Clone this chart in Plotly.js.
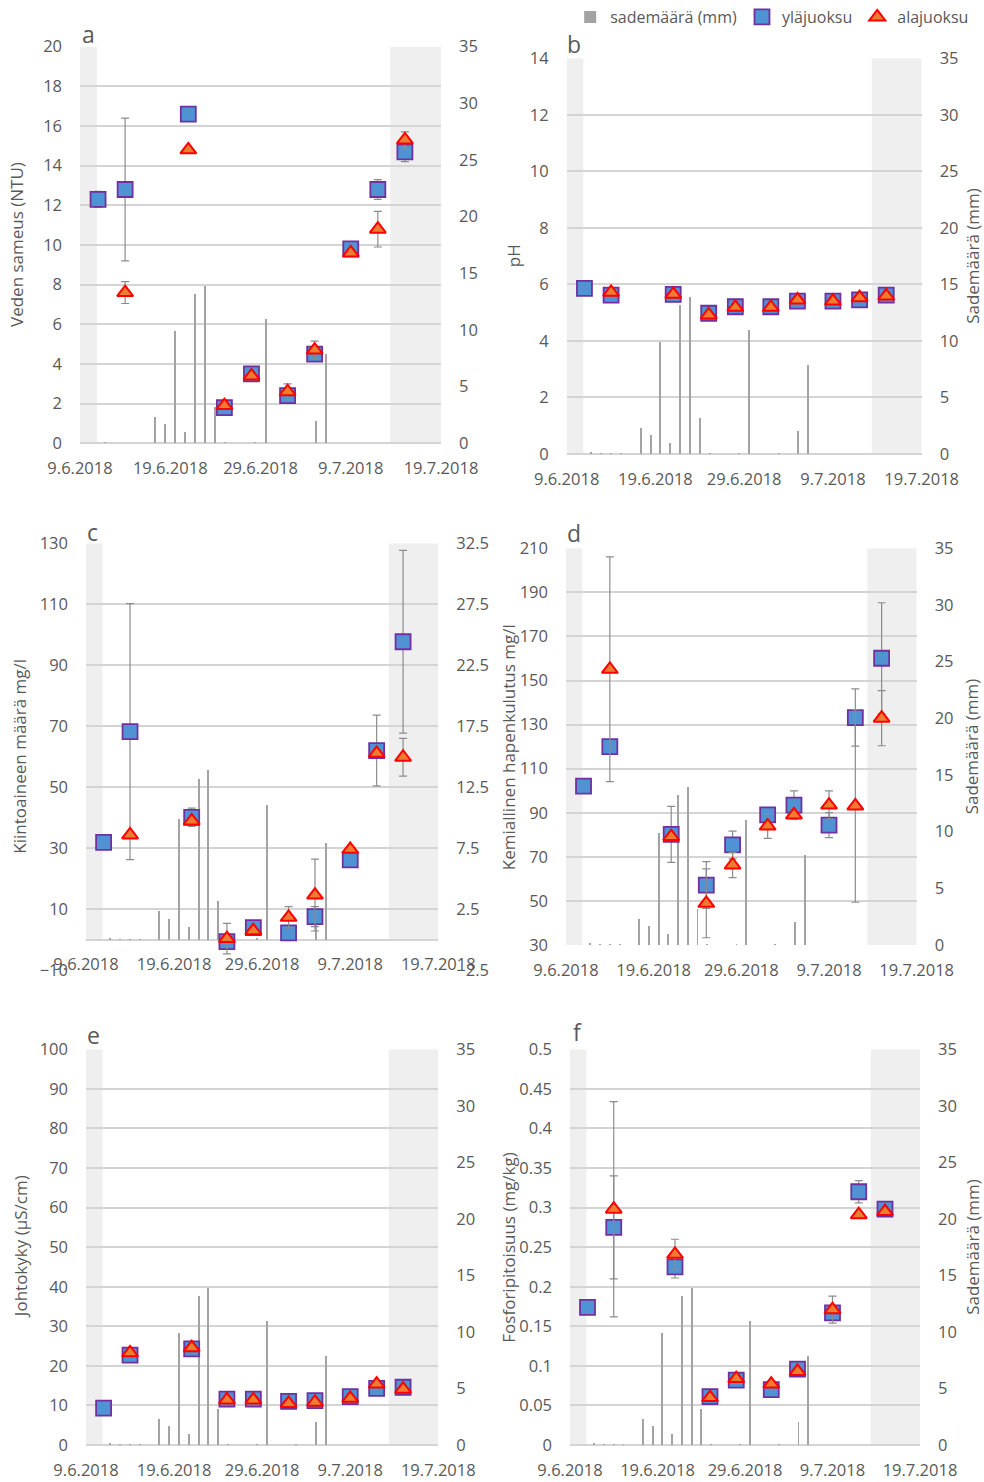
<!DOCTYPE html>
<html><head><meta charset="utf-8">
<script src="https://cdn.plot.ly/plotly-3.0.1.min.js"></script>
<style>html,body{margin:0;padding:0;background:#fff}#chart{width:984px;height:1482px}</style>
</head><body><div id="chart"></div>
<script>
// ---------- data ----------
const sampleDates = ['2018-06-11','2018-06-14','2018-06-21','2018-06-25','2018-06-28','2018-07-02','2018-07-05','2018-07-09','2018-07-12','2018-07-15'];

const rainDates = ['2018-06-09','2018-06-10','2018-06-11','2018-06-12','2018-06-13','2018-06-14','2018-06-15','2018-06-16','2018-06-17','2018-06-18',
  '2018-06-19','2018-06-20','2018-06-21','2018-06-22','2018-06-23','2018-06-24','2018-06-25','2018-06-26','2018-06-27','2018-06-28',
  '2018-06-29','2018-06-30','2018-07-01','2018-07-02','2018-07-03','2018-07-04','2018-07-05','2018-07-06','2018-07-07','2018-07-08',
  '2018-07-09','2018-07-10','2018-07-11','2018-07-12','2018-07-13','2018-07-14'];
const rainMm = [0,0,0.15,0.05,0.05,0.05,0,2.3,1.7,9.9,
  1.0,13.2,13.9,3.2,0.1,0,0,0.1,11.0,0,
  0,0.05,0,2.0,7.9,0,0,0,0,0,
  0,0,0,0,0,0];

const tickDates = ['2018-06-09','2018-06-19','2018-06-29','2018-07-09','2018-07-19'];
const tickLabels = ['9.6.2018','19.6.2018','29.6.2018','9.7.2018','19.7.2018'];
const shadeLeftEnd = '2018-06-10 21:00';
const shadeRightStart = '2018-07-13 09:00';

// a: Veden sameus (NTU)
const turbUp      = [12.3, 12.8, 16.6, 1.8, 3.5, 2.4, 4.5, 9.8, 12.8, 14.7];
const turbUpErr   = [0.4, 3.6, null, null, null, null, null, null, 0.5, 0.5];
const turbDown    = [null, 7.6, 14.8, 1.9, 3.4, 2.6, 4.7, 9.6, 10.8, 15.3];
const turbDownErr = [null, 0.55, null, null, null, 0.4, 0.45, null, 0.9, 0.4];
// b: pH
const phUp   = [5.86, 5.62, 5.65, 4.98, 5.21, 5.21, 5.41, 5.41, 5.45, 5.62];
const phDown = [null, 5.72, 5.65, 4.92, 5.19, 5.19, 5.45, 5.41, 5.53, 5.59];
// c: Kiintoaineen määrä mg/l
const ssUp      = [31.9, 68.2, 40.1, -0.7, 3.9, 2.2, 7.5, 26.1, 62.0, 97.7];
const ssUpErr   = [null, 42, 3, null, null, null, 3.3, null, 11.6, 30];
const ssDown    = [null, 34.3, 38.9, 0.3, 2.9, 7.3, 14.6, 29.6, 61.1, 59.8];
const ssDownErr = [null, null, null, 5, null, 3.5, 11.8, null, null, 6.2];
// d: Kemiallinen hapenkulutus mg/l
const codUp      = [102.1, 120, 80.2, 57.2, 75.4, 89, 93.5, 84.4, 133.2, 160.1];
const codUpErr   = [null, null, 12.7, 10.6, 6.3, null, 6.4, 5.7, 13, 25.2];
const codDown    = [null, 155.1, 79.2, 48.9, 66.3, 84, 89, 93.5, 93.1, 132.9];
const codDownErr = [null, 51, null, 15.6, 5.7, 5.6, null, 6.4, 43.7, 12.5];
// e: Johtokyky (µS/cm)
const condUp   = [9.3, 22.7, 24.3, 11.6, 11.6, 11.0, 11.2, 12.2, 14.3, 14.6];
const condDown = [null, 23.3, 24.6, 11.4, 11.4, 10.5, 10.8, 11.8, 15.4, 14.1];
// f: Fosforipitoisuus (mg/kg)
const pUp      = [0.174, 0.275, 0.225, 0.061, 0.082, 0.070, 0.096, 0.167, 0.320, 0.298];
const pUpErr   = [null, 0.065, 0.014, null, null, null, null, null, 0.014, null];
const pDown    = [null, 0.298, 0.241, 0.060, 0.084, 0.077, 0.093, 0.171, 0.291, 0.295];
const pDownErr = [null, 0.136, 0.019, null, null, null, null, 0.017, null, null];

// ---------- layout helpers ----------
const W = 984, H = 1482;
const TXT = '#595959';
const GRID = '#d4d4d4';
const FONT = 'Open Sans, Liberation Sans, sans-serif';
const DATE_RANGE = ['2018-06-09','2018-07-19'];
const RAIN_DAY_RANGE = ['2018-06-08 12:00','2018-07-14 12:00'];

const panels = [
  {letter:'a', box:[80,441,46.7,443.3], up:turbUp, upErr:turbUpErr, down:turbDown, downErr:turbDownErr,
   yr:[0,20], t0:0, dt:2, rr:[0,35], rt0:0, title:'Veden sameus (NTU)', tx:17, rtitle:false, lxy:[88,34]},
  {letter:'b', box:[566.7,921.7,58.3,454], up:phUp, upErr:null, down:phDown, downErr:null,
   yr:[0,14], t0:0, dt:2, rr:[0,35], rt0:0, title:'pH', tx:513, rtitle:true, lxy:[574,44]},
  {letter:'c', box:[86,438.3,543.3,970], up:ssUp, upErr:ssUpErr, down:ssDown, downErr:ssDownErr,
   yr:[-10,130], t0:-10, dt:20, rr:[-2.5,32.5], rt0:-2.5, title:'Kiintoaineen määrä mg/l', tx:20, rtitle:false, lxy:[92,532], xpos:939.5},
  {letter:'d', box:[566,916.7,548.3,945], up:codUp, upErr:codUpErr, down:codDown, downErr:codDownErr,
   yr:[30,210], t0:30, dt:20, rr:[0,35], rt0:0, title:'Kemiallinen hapenkulutus mg/l', tx:508.5, rtitle:true, lxy:[574,533]},
  {letter:'e', box:[86,438.3,1049.3,1445], up:condUp, upErr:null, down:condDown, downErr:null,
   yr:[0,100], t0:0, dt:10, rr:[0,35], rt0:0, title:'Johtokyky (µS/cm)', tx:20, rtitle:false, lxy:[93,1035]},
  {letter:'f', box:[570,920,1049.3,1445], up:pUp, upErr:pUpErr, down:pDown, downErr:pDownErr,
   yr:[0,0.5], t0:0, dt:0.05, rr:[0,35], rt0:0, title:'Fosforipitoisuus (mg/kg)', tx:508.5, rtitle:true, lxy:[577,1032]}
];

const traces = [];
const layout = {
  width: W, height: H,
  margin: {l:0, r:0, t:0, b:0},
  paper_bgcolor: '#ffffff', plot_bgcolor: '#ffffff',
  font: {family: FONT, size: 16, color: TXT},
  showlegend: true,
  legend: {orientation:'h', x:0.99, xanchor:'right', y:1, yanchor:'top', bgcolor:'rgba(0,0,0,0)', itemwidth:30, tracegroupgap:0},
  shapes: [], annotations: [], bargap: 0
};

panels.forEach((p, k) => {
  const n = 3*k + 1;
  const xA = 'x'+n, yA = 'y'+n;           // main: dates + left values (grid, labels)
  const xB = 'x'+(n+1), yB = 'y'+(n+1);   // overlay: daily rain bars + right axis
  const xC = 'x'+(n+2), yC = 'y'+(n+2);   // overlay: sample markers (drawn on top)
  const xd = [p.box[0]/W, p.box[1]/W];
  const yd = [1 - p.box[3]/H, 1 - p.box[2]/H];

  traces.push({type:'bar', x: rainDates, y: rainMm, xaxis: xB, yaxis: yB,
    width: 0.2*86400000, marker:{color:'#a3a3a3', line:{width:0}},
    name:'sademäärä (mm)', showlegend: k===0});

  const eb = (arr) => arr ? {type:'data', array: arr, symmetric:true, visible:true, color:'#8c8c8c', thickness:1.2, width:4} : {visible:false};

  traces.push({type:'scatter', mode:'markers', x: sampleDates, y: p.up, xaxis: xC, yaxis: yC,
    error_y: eb(p.upErr),
    marker:{symbol:'square', size:15, color:'#4f93d5', line:{color:'#7030a0', width:1.8}},
    name:'yläjuoksu', showlegend: k===0});
  traces.push({type:'scatter', mode:'markers', x: sampleDates, y: p.down, xaxis: xC, yaxis: yC,
    error_y: eb(p.downErr),
    marker:{symbol:'triangle-up', size:14, color:'#ed7d31', line:{color:'#ff0000', width:2}},
    name:'alajuoksu', showlegend: k===0});

  const xMain = {domain: xd, type:'date', range: DATE_RANGE,
    tickmode:'array', tickvals: tickDates, ticktext: tickLabels,
    showgrid:false, zeroline:false, showline:false, ticks:'', ticklabelstandoff:13,
    tickfont:{size:16.5, color:TXT}, automargin:false, fixedrange:true};
  if (p.xpos !== undefined) { xMain.anchor = 'free'; xMain.position = 1 - p.xpos/H; }
  else { xMain.anchor = yA; }
  layout['xaxis'+n] = xMain;
  layout['yaxis'+n] = {domain: yd, anchor: xA, side:'left', range: p.yr, tick0: p.t0, dtick: p.dt,
    showgrid:true, gridcolor:GRID, gridwidth:2, zeroline:true, zerolinecolor:GRID, zerolinewidth:2, showline:false,
    ticks:'', ticklabelstandoff:17, tickfont:{size:16.5, color:TXT}, automargin:false, fixedrange:true};

  layout['xaxis'+(n+1)] = {overlaying: xA, anchor: yB, type:'date', range: RAIN_DAY_RANGE, visible:false, fixedrange:true};
  layout['yaxis'+(n+1)] = {overlaying: yA, anchor: xB, side:'right', range: p.rr, tick0: p.rt0, dtick:5,
    showgrid:false, zeroline:false, showline:false,
    ticks:'', ticklabelstandoff:17, tickfont:{size:16.5, color:TXT}, automargin:false, fixedrange:true};

  layout['xaxis'+(n+2)] = {overlaying: xA, anchor: yC, type:'date', range: DATE_RANGE, visible:false, fixedrange:true};
  layout['yaxis'+(n+2)] = {overlaying: yA, anchor: xC, range: p.yr, visible:false, fixedrange:true};

  [[ DATE_RANGE[0], shadeLeftEnd ], [ shadeRightStart, DATE_RANGE[1] ]].forEach(([a0, a1]) => {
    layout.shapes.push({type:'rect', xref: xA, yref: yA, x0: a0, x1: a1,
      y0: Math.max(0, p.yr[0]), y1: p.yr[1], fillcolor:'#efefef', line:{width:0}, layer:'below'});
  });

  layout.annotations.push({text: p.letter, xref:'paper', yref:'paper', x: p.lxy[0]/W, y: 1 - p.lxy[1]/H,
    xanchor:'center', yanchor:'middle', showarrow:false, font:{size:23, color:TXT}});
  layout.annotations.push({text: p.title, xref:'paper', yref:'paper', x: p.tx/W, y: 1 - (p.box[2]+p.box[3])/2/H,
    xanchor:'center', yanchor:'middle', textangle:-90, showarrow:false, font:{size:17, color:TXT}});
  if (p.rtitle) {
    layout.annotations.push({text:'Sademäärä (mm)', xref:'paper', yref:'paper', x: 971.7/W, y: 1 - (p.box[2]+p.box[3])/2/H,
      xanchor:'center', yanchor:'middle', textangle:-90, showarrow:false, font:{size:17, color:TXT}});
  }
});

Plotly.newPlot('chart', traces, layout, {displayModeBar:false, staticPlot:true});
</script>
</body></html>
